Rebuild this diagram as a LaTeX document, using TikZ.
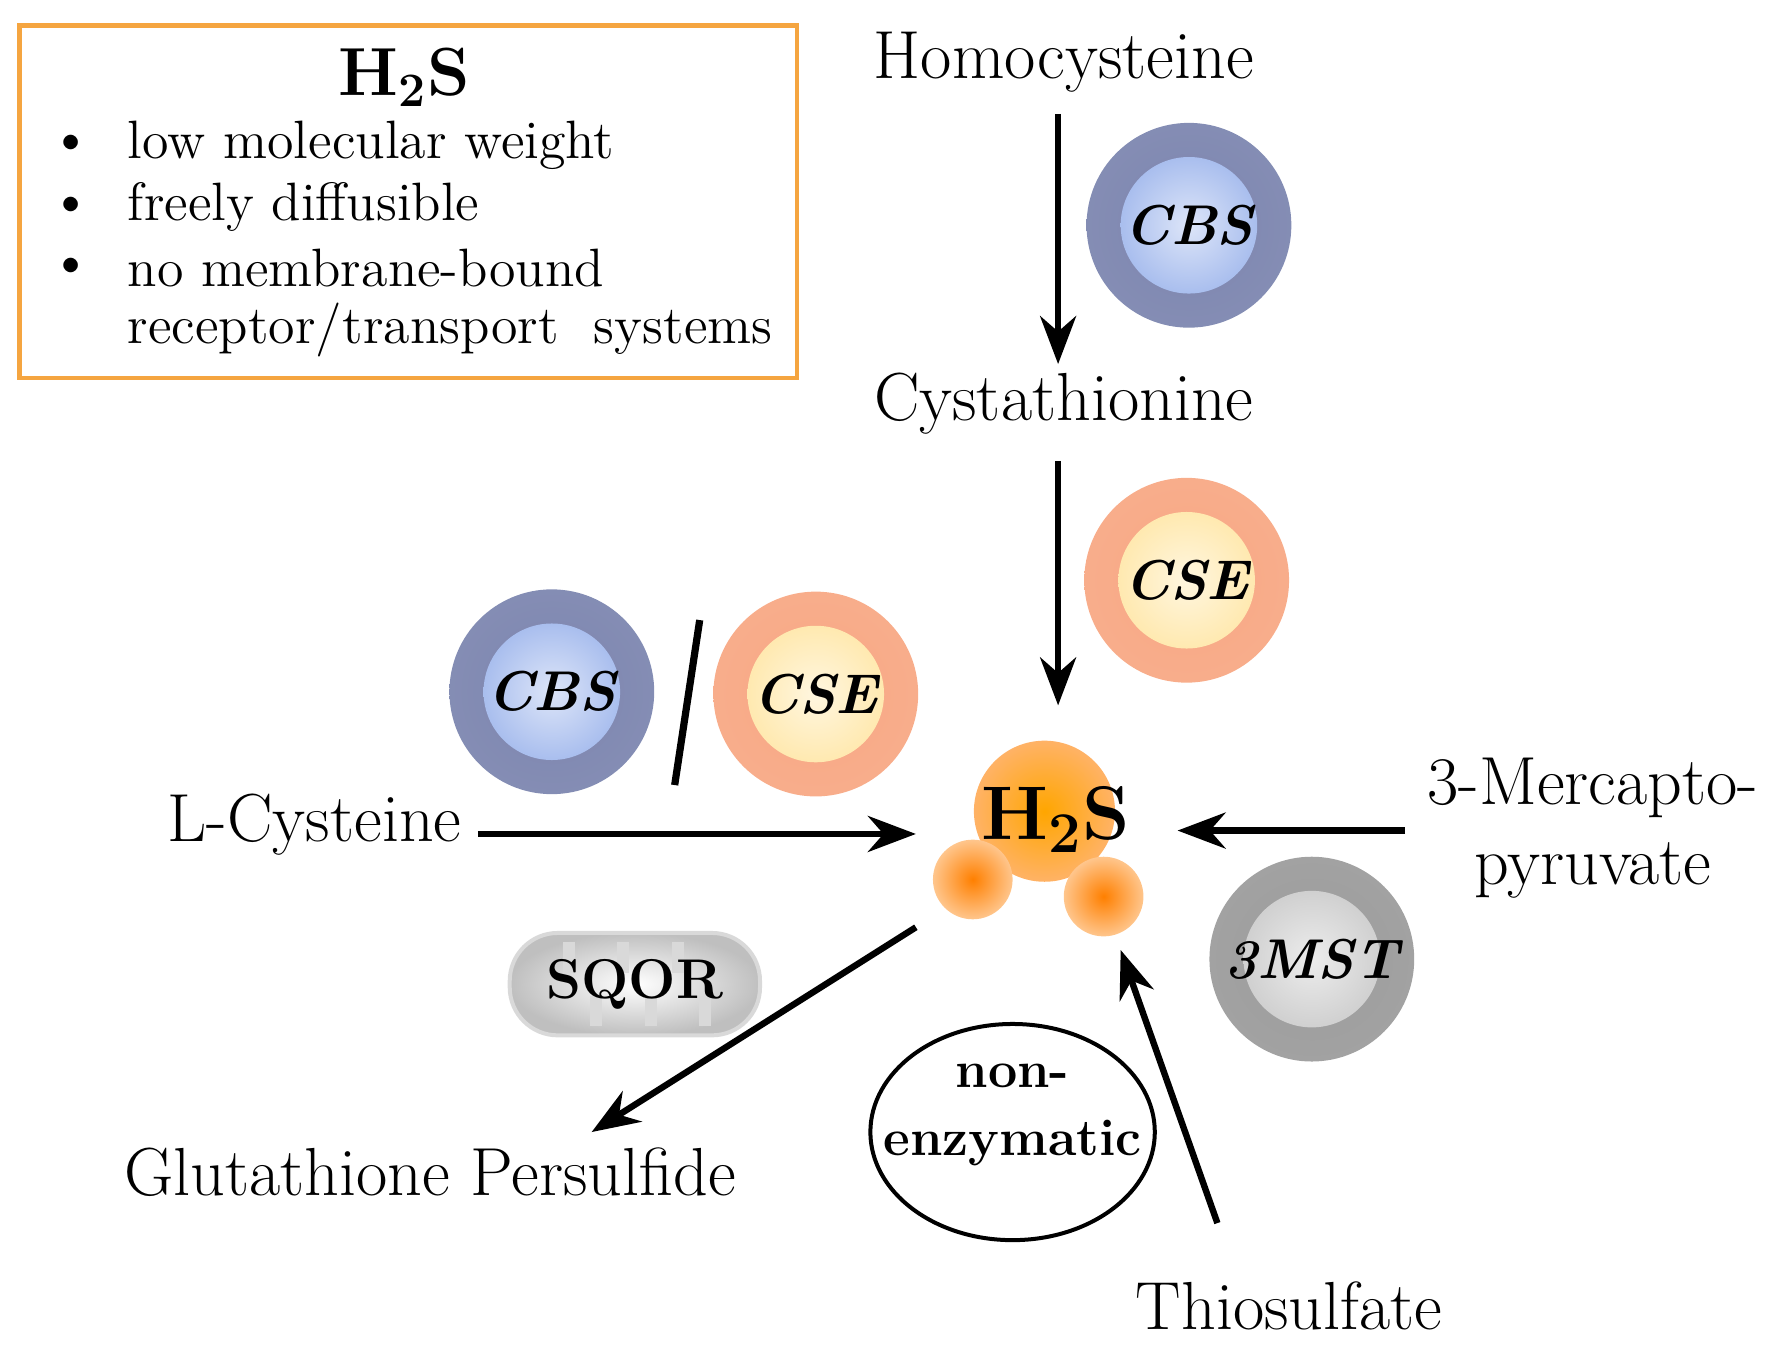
\documentclass[tikz,border=0pt]{standalone}
\usetikzlibrary{arrows.meta,shapes.geometric}
\begin{document}
\begin{tikzpicture}[x=0.01cm,y=-0.01cm,
 big/.style={font=\fontsize{17}{20}\selectfont},
 sm/.style={font=\fontsize{13.5}{16}\selectfont,anchor=west},
 arr/.style={line width=1.6pt,-{Stealth[length=12pt,width=9pt]}},
 enz/.style={font=\fontsize{14}{16}\selectfont\bfseries\itshape}]
\useasboundingbox (0,0) rectangle (1568,1191);
\newcommand{\enzyme}[6]{% name, x, y, outer, inner, label
 \shade[inner color=#4!75!white,outer color=#4!70!white] (#2,#3) circle (90);
 \shade[inner color=#5!40!white,outer color=#5] (#2,#3) circle (60);
 \node[enz] (#1) at (#2,#3) {#6};}
\definecolor{cbso}{HTML}{505C94}\definecolor{cbsi}{HTML}{A9BEEE}
\definecolor{cseo}{HTML}{F58A5A}\definecolor{csei}{HTML}{FFE9B0}
\definecolor{msto}{HTML}{7A7A7A}\definecolor{msti}{HTML}{D0D0D0}
\definecolor{boxc}{HTML}{F5A540}
\node[draw=boxc,line width=1.2pt,minimum width=6.83cm,minimum height=3.1cm,anchor=north west] (box) at (15,20) {};
\node[font=\fontsize{17}{20}\selectfont\bfseries] (t) at (355,68) {H$_\mathbf{2}$S};
\foreach \y/\t [count=\i] in {128/low molecular weight,182/freely diffusible,236/no membrane-bound}{
 \node[sm] (b\i) at (32,\y) {\textbullet}; \node[sm] (l\i) at (100,\y) {\t};}
\node[sm] (l4) at (100,290) {receptor/transport\ \ systems};
\node[big] (hc) at (935,55) {Homocysteine};
\node[big] (cy) at (935,355) {Cystathionine};
\node[big,anchor=east] (lc) at (418,725) {L-Cysteine};
\node[big,align=center] (mp) at (1400,728) {3-Mercapto-\\pyruvate};
\node[big] (gp) at (378,1030) {Glutathione Persulfide};
\node[big] (th) at (1133,1148) {Thiosulfate};
\coordinate (a1) at (930,100); \coordinate (a2) at (930,320);
\coordinate (a3) at (930,405); \coordinate (a4) at (930,620);
\coordinate (a5) at (420,733); \coordinate (a6) at (805,733);
\coordinate (a7) at (1235,730); \coordinate (a8) at (1035,730);
\coordinate (a9) at (805,815); \coordinate (a10) at (520,995);
\coordinate (a11) at (1070,1075); \coordinate (a12) at (985,835);
\draw[arr] (a1)--(a2); \draw[arr] (a3)--(a4); \draw[arr] (a5)--(a6);
\draw[arr] (a7)--(a8); \draw[arr] (a9)--(a10); \draw[arr] (a11)--(a12);
\enzyme{e1}{1045}{198}{cbso}{cbsi}{CBS}
\enzyme{e2}{1043}{510}{cseo}{csei}{CSE}
\enzyme{e3}{485}{608}{cbso}{cbsi}{CBS}
\enzyme{e4}{717}{610}{cseo}{csei}{CSE}
\enzyme{e5}{1153}{843}{msto}{msti}{3MST}
\coordinate (s1) at (615,545); \coordinate (s2) at (593,690);
\draw[line width=1.8pt] (s1)--(s2);
\shade[inner color=orange!70!yellow,outer color=orange!60] (918,713) circle (62);
\shade[inner color=orange,outer color=orange!45] (855,773) circle (35);
\shade[inner color=orange,outer color=orange!45] (970,788) circle (35);
\node[font=\fontsize{19}{22}\selectfont\bfseries] (h) at (928,720) {H$_\mathbf{2}$S};
\begin{scope}
\clip[rounded corners=12pt] (448,820) rectangle (668,910);
\shade[inner color=white,outer color=gray!50] (448,820) rectangle (668,910);
\end{scope}
\draw[gray!30,line width=1pt,rounded corners=12pt] (448,820) rectangle (668,910);
\foreach \x in {500,548,596}{\draw[gray!30,line width=3pt] (\x,828)--(\x,855) (\x+24,902)--(\x+24,875);}
\node[font=\fontsize{14}{16}\selectfont\bfseries] (sq) at (558,865) {SQOR};
\draw[line width=1pt] (890,995) ellipse (125 and 95);
\node[align=center,font=\fontsize{13}{17}\selectfont\bfseries] (ne) at (890,980) {non-\\enzymatic};
\end{tikzpicture}
\end{document}
